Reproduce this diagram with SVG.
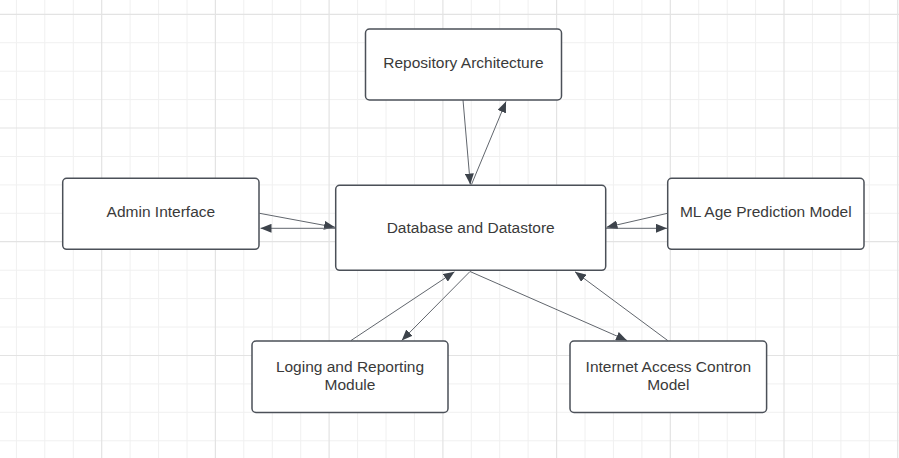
<svg xmlns="http://www.w3.org/2000/svg" width="899" height="458" viewBox="0 0 899 458">
<style>
.minor{stroke:#f0f0f0;stroke-width:1;fill:none}
.major{stroke:#e3e3e3;stroke-width:1.2;fill:none}
.box{fill:#ffffff;stroke:#4b5058;stroke-width:1.5}
.lbl{font-family:"Liberation Sans",Arial,sans-serif;font-size:15.5px;fill:#3a3a3a;text-anchor:middle}
.edge{stroke:#61666d;stroke-width:1;fill:none;marker-end:url(#ah)}
</style>
<defs>
<marker id="ah" markerUnits="userSpaceOnUse" markerWidth="11" markerHeight="9" refX="11" refY="4.5" orient="auto" viewBox="0 0 11 9">
<path d="M0,0 L11,4.5 L0,9 z" fill="#3d434b"/>
</marker>
</defs>
<rect width="899" height="458" fill="#ffffff"/>
<g id="grid">
<path class="minor" d="M16.4,0V458M44.8,0V458M73.3,0V458M130.1,0V458M158.6,0V458M187,0V458M243.8,0V458M272.3,0V458M300.7,0V458M357.6,0V458M386,0V458M414.4,0V458M471.3,0V458M499.7,0V458M528.1,0V458M585,0V458M613.4,0V458M641.9,0V458M698.7,0V458M727.2,0V458M755.6,0V458M812.4,0V458M840.9,0V458M869.3,0V458M0,42.7H899M0,71.2H899M0,99.6H899M0,156.5H899M0,184.9H899M0,213.3H899M0,270.2H899M0,298.6H899M0,327H899M0,383.9H899M0,412.3H899M0,440.8H899"/>
<path class="major" d="M101.7,0V458M215.4,0V458M329.1,0V458M442.9,0V458M556.6,0V458M670.3,0V458M784,0V458M897.7,0V458M0,14.3H899M0,128H899M0,241.7H899M0,355.5H899"/>
</g>
<g id="connectors">
<line class="edge" x1="463" y1="100" x2="470.3" y2="184.5"/>
<line class="edge" x1="471.5" y1="184.5" x2="506" y2="101.5"/>
<line class="edge" x1="259.5" y1="213.3" x2="335" y2="227.3"/>
<line class="edge" x1="335" y1="228.3" x2="260.5" y2="228.3"/>
<line class="edge" x1="667.5" y1="213.3" x2="606.5" y2="227.3"/>
<line class="edge" x1="606" y1="228.3" x2="667" y2="228.3"/>
<line class="edge" x1="351" y1="340.5" x2="454.5" y2="271.8"/>
<line class="edge" x1="470" y1="271.5" x2="401.7" y2="340.5"/>
<line class="edge" x1="470" y1="271.5" x2="627" y2="340.5"/>
<line class="edge" x1="667.7" y1="340.5" x2="575" y2="271.8"/>
</g>
<g id="repository">
<rect class="box" x="365.5" y="29" width="196" height="71" rx="4"/>
<text class="lbl" x="463.4" y="67.7">Repository Architecture</text>
</g>
<g id="admin">
<rect class="box" x="62.7" y="178.3" width="196.3" height="71" rx="4"/>
<text class="lbl" x="160.9" y="216.7">Admin Interface</text>
</g>
<g id="database">
<rect class="box" x="335.7" y="185.3" width="270" height="85" rx="4"/>
<text class="lbl" x="470.7" y="232.7">Database and Datastore</text>
</g>
<g id="ml">
<rect class="box" x="667.7" y="178.3" width="196.3" height="71" rx="4"/>
<text class="lbl" x="765.8" y="216.7">ML Age Prediction Model</text>
</g>
<g id="logging">
<rect class="box" x="252" y="341" width="196" height="71.5" rx="4"/>
<text class="lbl" x="350" y="371.7">Loging and Reporting</text>
<text class="lbl" x="350" y="390">Module</text>
</g>
<g id="internet">
<rect class="box" x="570" y="341" width="196.6" height="71.5" rx="4"/>
<text class="lbl" x="668.3" y="371.7">Internet Access Contron</text>
<text class="lbl" x="668.3" y="390">Model</text>
</g>
</svg>
